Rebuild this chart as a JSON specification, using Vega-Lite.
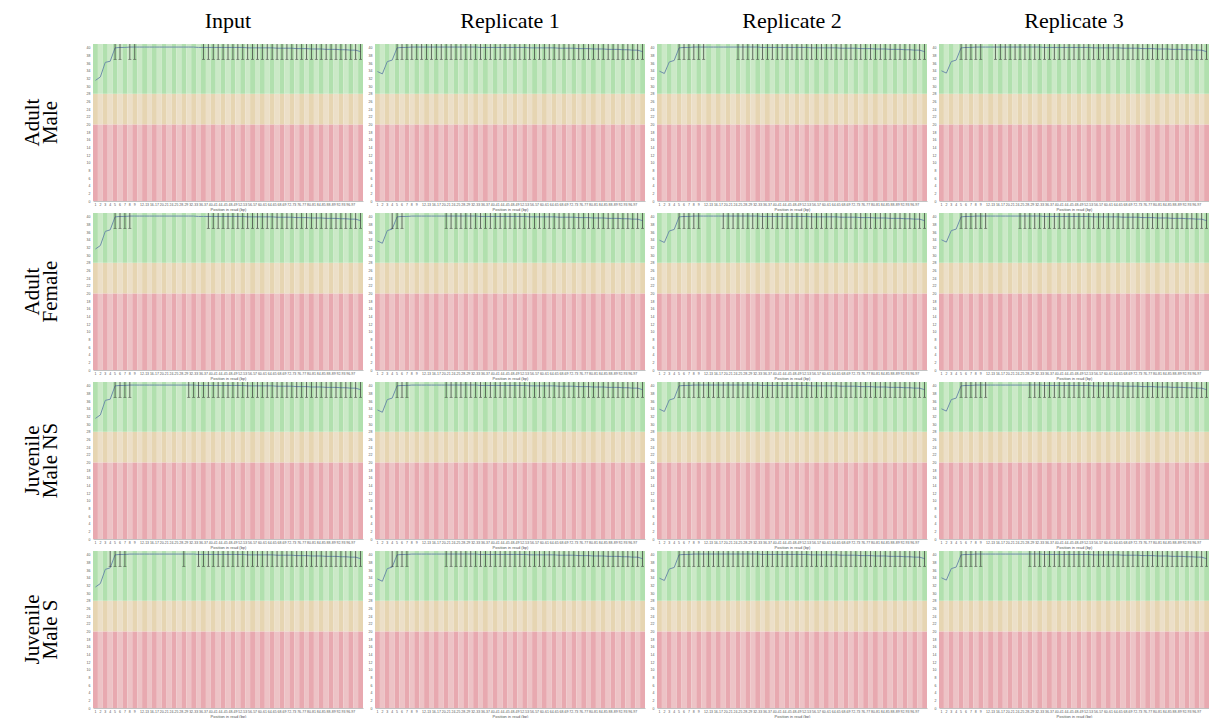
{
  "$schema": "https://vega.github.io/schema/vega-lite/v6.json",
  "background": "white",
  "padding": {"left": 21, "top": 10, "right": 0, "bottom": 0},
  "datasets": {
    "groups": [
      {"i":1,"g":"1"},{"i":2,"g":"2"},{"i":3,"g":"3"},{"i":4,"g":"4"},{"i":5,"g":"5"},{"i":6,"g":"6"},{"i":7,"g":"7"},{"i":8,"g":"8"},{"i":9,"g":"9"},
      {"i":10,"g":"10-11"},{"i":11,"g":"12-13"},{"i":12,"g":"14-15"},{"i":13,"g":"16-17"},{"i":14,"g":"18-19"},{"i":15,"g":"20-21"},{"i":16,"g":"22-23"},{"i":17,"g":"24-25"},{"i":18,"g":"26-27"},{"i":19,"g":"28-29"},
      {"i":20,"g":"30-31"},{"i":21,"g":"32-33"},{"i":22,"g":"34-35"},{"i":23,"g":"36-37"},{"i":24,"g":"38-39"},{"i":25,"g":"40-41"},{"i":26,"g":"42-43"},{"i":27,"g":"44-45"},{"i":28,"g":"46-47"},{"i":29,"g":"48-49"},
      {"i":30,"g":"50-51"},{"i":31,"g":"52-53"},{"i":32,"g":"54-55"},{"i":33,"g":"56-57"},{"i":34,"g":"58-59"},{"i":35,"g":"60-61"},{"i":36,"g":"62-63"},{"i":37,"g":"64-65"},{"i":38,"g":"66-67"},{"i":39,"g":"68-69"},
      {"i":40,"g":"70-71"},{"i":41,"g":"72-73"},{"i":42,"g":"74-75"},{"i":43,"g":"76-77"},{"i":44,"g":"78-79"},{"i":45,"g":"80-81"},{"i":46,"g":"82-83"},{"i":47,"g":"84-85"},{"i":48,"g":"86-87"},{"i":49,"g":"88-89"},
      {"i":50,"g":"90-91"},{"i":51,"g":"92-93"},{"i":52,"g":"94-95"},{"i":53,"g":"96-97"},{"i":54,"g":"98-99"},{"i":55,"g":"100-101"}
    ]
  },
  "data": {"values": [
    {"r":"Adult|Male","c":"Input",
     "i":[1,2,3,4,5,6,7,8,9,10,11,12,13,14,15,16,17,18,19,20,21,22,23,24,25,26,27,28,29,30,31,32,33,34,35,36,37,38,39,40,41,42,43,44,45,46,47,48,49,50,51,52,53,54,55],
     "m":[31.5,32.4,36.2,36.5,40.0,40.1,40.1,40.2,40.2,40.2,40.2,40.2,40.2,40.2,40.2,40.2,40.2,40.2,40.2,40.2,40.2,40.1,40.1,40.1,40.1,40.1,40.1,40.1,40.1,40.1,40.1,40,40,40,40,40,40,39.9,39.9,39.9,39.9,39.8,39.8,39.8,39.7,39.7,39.7,39.6,39.6,39.6,39.5,39.5,39.4,39.4,39],
     "w":[null,null,null,null,37,37,null,37,37,null,null,null,null,null,null,null,null,null,null,null,null,null,37,37,37,37,37,37,37,37,37,37,37,37,37,37,37,37,37,37,37,37,37,37,37,37,37,37,37,37,37,37,37,37,37]},
    {"r":"Adult|Male","c":"Replicate 1",
     "i":[1,2,3,4,5,6,7,8,9,10,11,12,13,14,15,16,17,18,19,20,21,22,23,24,25,26,27,28,29,30,31,32,33,34,35,36,37,38,39,40,41,42,43,44,45,46,47,48,49,50,51,52,53,54,55],
     "m":[33.8,33.2,36.4,36.8,40.0,40.1,40.1,40.2,40.2,40.2,40.2,40.2,40.2,40.2,40.2,40.2,40.2,40.2,40.2,40.2,40.2,40.1,40.1,40.1,40.1,40.1,40.1,40.1,40.1,40.1,40.1,40,40,40,40,40,40,39.9,39.9,39.9,39.9,39.8,39.8,39.8,39.7,39.7,39.7,39.6,39.6,39.6,39.5,39.5,39.4,39.4,39],
     "w":[null,null,null,null,37,37,37,37,37,37,37,37,37,37,37,37,37,37,37,37,37,37,37,37,37,37,37,37,37,37,37,37,37,37,37,37,37,37,37,37,37,37,37,37,37,37,37,37,37,37,37,37,37,37,37]},
    {"r":"Adult|Male","c":"Replicate 2",
     "i":[1,2,3,4,5,6,7,8,9,10,11,12,13,14,15,16,17,18,19,20,21,22,23,24,25,26,27,28,29,30,31,32,33,34,35,36,37,38,39,40,41,42,43,44,45,46,47,48,49,50,51,52,53,54,55],
     "m":[33.9,33.3,36.3,36.7,40.0,40.1,40.1,40.2,40.2,40.2,40.2,40.2,40.2,40.2,40.2,40.2,40.2,40.2,40.2,40.2,40.2,40.1,40.1,40.1,40.1,40.1,40.1,40.1,40.1,40.1,40.1,40,40,40,40,40,40,39.9,39.9,39.9,39.9,39.8,39.8,39.8,39.7,39.7,39.7,39.6,39.6,39.6,39.5,39.5,39.4,39.4,39],
     "w":[null,null,null,null,37,37,37,37,37,37,null,null,null,null,null,null,37,37,37,37,37,37,37,37,37,37,37,37,37,37,37,37,37,37,37,37,37,37,37,37,37,37,37,37,37,37,37,37,37,37,37,37,37,37,37]},
    {"r":"Adult|Male","c":"Replicate 3",
     "i":[1,2,3,4,5,6,7,8,9,10,11,12,13,14,15,16,17,18,19,20,21,22,23,24,25,26,27,28,29,30,31,32,33,34,35,36,37,38,39,40,41,42,43,44,45,46,47,48,49,50,51,52,53,54,55],
     "m":[34.0,33.4,36.4,36.8,40.0,40.1,40.1,40.2,40.2,40.2,40.2,40.2,40.2,40.2,40.2,40.2,40.2,40.2,40.2,40.2,40.2,40.1,40.1,40.1,40.1,40.1,40.1,40.1,40.1,40.1,40.1,40,40,40,40,40,40,39.9,39.9,39.9,39.9,39.8,39.8,39.8,39.7,39.7,39.7,39.6,39.6,39.6,39.5,39.5,39.4,39.4,39],
     "w":[null,null,null,null,37,37,37,37,37,null,null,37,37,37,37,37,37,37,37,37,37,37,37,37,37,37,37,37,37,37,37,37,37,37,37,37,37,37,37,37,37,37,37,37,37,37,37,37,37,37,37,37,37,37,37]},
    {"r":"Adult|Female","c":"Input",
     "i":[1,2,3,4,5,6,7,8,9,10,11,12,13,14,15,16,17,18,19,20,21,22,23,24,25,26,27,28,29,30,31,32,33,34,35,36,37,38,39,40,41,42,43,44,45,46,47,48,49,50,51,52,53,54,55],
     "m":[31.6,32.5,36.2,36.6,40.0,40.1,40.1,40.2,40.2,40.2,40.2,40.2,40.2,40.2,40.2,40.2,40.2,40.2,40.2,40.2,40.2,40.1,40.1,40.1,40.1,40.1,40.1,40.1,40.1,40.1,40.1,40,40,40,40,40,40,39.9,39.9,39.9,39.9,39.8,39.8,39.8,39.7,39.7,39.7,39.6,39.6,39.6,39.5,39.5,39.4,39.4,39],
     "w":[null,null,null,null,37,37,37,37,null,null,null,null,null,null,null,null,null,null,null,null,null,null,null,37,37,37,37,37,37,37,37,37,37,37,37,37,37,37,37,37,37,37,37,37,37,37,37,37,37,37,37,37,37,37,37]},
    {"r":"Adult|Female","c":"Replicate 1",
     "i":[1,2,3,4,5,6,7,8,9,10,11,12,13,14,15,16,17,18,19,20,21,22,23,24,25,26,27,28,29,30,31,32,33,34,35,36,37,38,39,40,41,42,43,44,45,46,47,48,49,50,51,52,53,54,55],
     "m":[33.7,33.1,36.4,36.8,40.0,40.1,40.1,40.2,40.2,40.2,40.2,40.2,40.2,40.2,40.2,40.2,40.2,40.2,40.2,40.2,40.2,40.1,40.1,40.1,40.1,40.1,40.1,40.1,40.1,40.1,40.1,40,40,40,40,40,40,39.9,39.9,39.9,39.9,39.8,39.8,39.8,39.7,39.7,39.7,39.6,39.6,39.6,39.5,39.5,39.4,39.4,39],
     "w":[null,null,null,37,37,37,null,null,null,null,null,null,null,null,37,37,37,37,37,37,37,37,37,37,37,37,37,37,37,37,37,37,37,37,37,37,37,37,37,37,37,37,37,37,37,37,37,37,37,37,37,37,37,37,37]},
    {"r":"Adult|Female","c":"Replicate 2",
     "i":[1,2,3,4,5,6,7,8,9,10,11,12,13,14,15,16,17,18,19,20,21,22,23,24,25,26,27,28,29,30,31,32,33,34,35,36,37,38,39,40,41,42,43,44,45,46,47,48,49,50,51,52,53,54,55],
     "m":[33.9,33.3,36.3,36.7,40.0,40.1,40.1,40.2,40.2,40.2,40.2,40.2,40.2,40.2,40.2,40.2,40.2,40.2,40.2,40.2,40.2,40.1,40.1,40.1,40.1,40.1,40.1,40.1,40.1,40.1,40.1,40,40,40,40,40,40,39.9,39.9,39.9,39.9,39.8,39.8,39.8,39.7,39.7,39.7,39.6,39.6,39.6,39.5,39.5,39.4,39.4,39],
     "w":[null,null,null,null,37,37,37,37,37,null,null,null,null,37,37,37,37,37,37,37,37,37,37,37,37,37,37,37,37,37,37,37,37,37,37,37,37,37,37,37,37,37,37,37,37,37,37,37,37,37,37,37,37,37,37]},
    {"r":"Adult|Female","c":"Replicate 3",
     "i":[1,2,3,4,5,6,7,8,9,10,11,12,13,14,15,16,17,18,19,20,21,22,23,24,25,26,27,28,29,30,31,32,33,34,35,36,37,38,39,40,41,42,43,44,45,46,47,48,49,50,51,52,53,54,55],
     "m":[34.0,33.4,36.4,36.8,40.0,40.1,40.1,40.2,40.2,40.2,40.2,40.2,40.2,40.2,40.2,40.2,40.2,40.2,40.2,40.2,40.2,40.1,40.1,40.1,40.1,40.1,40.1,40.1,40.1,40.1,40.1,40,40,40,40,40,40,39.9,39.9,39.9,39.9,39.8,39.8,39.8,39.7,39.7,39.7,39.6,39.6,39.6,39.5,39.5,39.4,39.4,39],
     "w":[null,null,null,null,37,37,37,37,37,37,null,null,null,null,null,null,37,37,37,37,37,37,37,37,37,37,37,37,37,37,37,37,37,37,37,37,37,37,37,37,37,37,37,37,37,37,37,37,37,37,37,37,37,37,37]},
    {"r":"Juvenile|Male NS","c":"Input",
     "i":[1,2,3,4,5,6,7,8,9,10,11,12,13,14,15,16,17,18,19,20,21,22,23,24,25,26,27,28,29,30,31,32,33,34,35,36,37,38,39,40,41,42,43,44,45,46,47,48,49,50,51,52,53,54,55],
     "m":[31.5,32.4,36.2,36.5,40.0,40.1,40.1,40.2,40.2,40.2,40.2,40.2,40.2,40.2,40.2,40.2,40.2,40.2,40.2,40.2,40.2,40.1,40.1,40.1,40.1,40.1,40.1,40.1,40.1,40.1,40.1,40,40,40,40,40,40,39.9,39.9,39.9,39.9,39.8,39.8,39.8,39.7,39.7,39.7,39.6,39.6,39.6,39.5,39.5,39.4,39.4,39],
     "w":[null,null,null,null,37,37,37,37,null,null,null,null,null,null,null,null,null,null,null,37,37,37,37,37,37,37,37,37,37,37,37,37,37,37,37,37,37,37,37,37,37,37,37,37,37,37,37,37,37,37,37,37,37,37,37]},
    {"r":"Juvenile|Male NS","c":"Replicate 1",
     "i":[1,2,3,4,5,6,7,8,9,10,11,12,13,14,15,16,17,18,19,20,21,22,23,24,25,26,27,28,29,30,31,32,33,34,35,36,37,38,39,40,41,42,43,44,45,46,47,48,49,50,51,52,53,54,55],
     "m":[33.7,33.1,36.4,36.8,40.0,40.1,40.1,40.2,40.2,40.2,40.2,40.2,40.2,40.2,40.2,40.2,40.2,40.2,40.2,40.2,40.2,40.1,40.1,40.1,40.1,40.1,40.1,40.1,40.1,40.1,40.1,40,40,40,40,40,40,39.9,39.9,39.9,39.9,39.8,39.8,39.8,39.7,39.7,39.7,39.6,39.6,39.6,39.5,39.5,39.4,39.4,39],
     "w":[null,null,null,null,37,37,37,null,null,null,null,null,null,null,37,37,37,37,37,37,37,37,37,37,37,37,37,37,37,37,37,37,37,37,37,37,37,37,37,37,37,37,37,37,37,37,37,37,37,37,37,37,37,37,37]},
    {"r":"Juvenile|Male NS","c":"Replicate 2",
     "i":[1,2,3,4,5,6,7,8,9,10,11,12,13,14,15,16,17,18,19,20,21,22,23,24,25,26,27,28,29,30,31,32,33,34,35,36,37,38,39,40,41,42,43,44,45,46,47,48,49,50,51,52,53,54,55],
     "m":[33.9,33.3,36.3,36.7,40.0,40.1,40.1,40.2,40.2,40.2,40.2,40.2,40.2,40.2,40.2,40.2,40.2,40.2,40.2,40.2,40.2,40.1,40.1,40.1,40.1,40.1,40.1,40.1,40.1,40.1,40.1,40,40,40,40,40,40,39.9,39.9,39.9,39.9,39.8,39.8,39.8,39.7,39.7,39.7,39.6,39.6,39.6,39.5,39.5,39.4,39.4,39],
     "w":[null,null,null,null,37,37,37,37,37,37,37,37,37,37,37,37,37,37,37,37,37,37,37,37,37,37,37,37,37,37,37,37,37,37,37,37,37,37,37,37,37,37,37,37,37,37,37,37,37,37,37,37,37,37,37]},
    {"r":"Juvenile|Male NS","c":"Replicate 3",
     "i":[1,2,3,4,5,6,7,8,9,10,11,12,13,14,15,16,17,18,19,20,21,22,23,24,25,26,27,28,29,30,31,32,33,34,35,36,37,38,39,40,41,42,43,44,45,46,47,48,49,50,51,52,53,54,55],
     "m":[34.0,33.4,36.4,36.8,40.0,40.1,40.1,40.2,40.2,40.2,40.2,40.2,40.2,40.2,40.2,40.2,40.2,40.2,40.2,40.2,40.2,40.1,40.1,40.1,40.1,40.1,40.1,40.1,40.1,40.1,40.1,40,40,40,40,40,40,39.9,39.9,39.9,39.9,39.8,39.8,39.8,39.7,39.7,39.7,39.6,39.6,39.6,39.5,39.5,39.4,39.4,39],
     "w":[null,null,null,null,37,37,37,37,37,37,null,null,null,null,null,null,null,null,37,37,37,37,37,37,37,37,37,37,37,37,37,37,37,37,37,37,37,37,37,37,37,37,37,37,37,37,37,37,37,37,37,37,37,37,37]},
    {"r":"Juvenile|Male S","c":"Input",
     "i":[1,2,3,4,5,6,7,8,9,10,11,12,13,14,15,16,17,18,19,20,21,22,23,24,25,26,27,28,29,30,31,32,33,34,35,36,37,38,39,40,41,42,43,44,45,46,47,48,49,50,51,52,53,54,55],
     "m":[31.6,32.5,36.2,36.6,40.0,40.1,40.1,40.2,40.2,40.2,40.2,40.2,40.2,40.2,40.2,40.2,40.2,40.2,40.2,40.2,40.2,40.1,40.1,40.1,40.1,40.1,40.1,40.1,40.1,40.1,40.1,40,40,40,40,40,40,39.9,39.9,39.9,39.9,39.8,39.8,39.8,39.7,39.7,39.7,39.6,39.6,39.6,39.5,39.5,39.4,39.4,39],
     "w":[null,null,null,37,37,37,37,null,null,null,null,null,null,null,null,null,null,null,37,null,null,37,37,37,37,37,37,37,37,37,37,37,37,37,37,37,37,37,37,37,37,37,37,37,37,37,37,37,37,37,37,37,37,37,37]},
    {"r":"Juvenile|Male S","c":"Replicate 1",
     "i":[1,2,3,4,5,6,7,8,9,10,11,12,13,14,15,16,17,18,19,20,21,22,23,24,25,26,27,28,29,30,31,32,33,34,35,36,37,38,39,40,41,42,43,44,45,46,47,48,49,50,51,52,53,54,55],
     "m":[33.7,33.1,36.4,36.8,40.0,40.1,40.1,40.2,40.2,40.2,40.2,40.2,40.2,40.2,40.2,40.2,40.2,40.2,40.2,40.2,40.2,40.1,40.1,40.1,40.1,40.1,40.1,40.1,40.1,40.1,40.1,40,40,40,40,40,40,39.9,39.9,39.9,39.9,39.8,39.8,39.8,39.7,39.7,39.7,39.6,39.6,39.6,39.5,39.5,39.4,39.4,39],
     "w":[null,null,null,37,37,37,37,null,null,null,null,null,null,null,37,37,37,37,37,37,37,37,37,37,37,37,37,37,37,37,37,37,37,37,37,37,37,37,37,37,37,37,37,37,37,37,37,37,37,37,37,37,37,37,37]},
    {"r":"Juvenile|Male S","c":"Replicate 2",
     "i":[1,2,3,4,5,6,7,8,9,10,11,12,13,14,15,16,17,18,19,20,21,22,23,24,25,26,27,28,29,30,31,32,33,34,35,36,37,38,39,40,41,42,43,44,45,46,47,48,49,50,51,52,53,54,55],
     "m":[33.9,33.3,36.3,36.7,40.0,40.1,40.1,40.2,40.2,40.2,40.2,40.2,40.2,40.2,40.2,40.2,40.2,40.2,40.2,40.2,40.2,40.1,40.1,40.1,40.1,40.1,40.1,40.1,40.1,40.1,40.1,40,40,40,40,40,40,39.9,39.9,39.9,39.9,39.8,39.8,39.8,39.7,39.7,39.7,39.6,39.6,39.6,39.5,39.5,39.4,39.4,39],
     "w":[null,null,null,null,37,37,37,37,37,37,37,37,37,37,37,37,37,37,37,37,37,37,37,37,37,37,37,37,37,37,37,37,37,37,37,37,37,37,37,37,37,37,37,37,37,37,37,37,37,37,37,37,37,37,37]},
    {"r":"Juvenile|Male S","c":"Replicate 3",
     "i":[1,2,3,4,5,6,7,8,9,10,11,12,13,14,15,16,17,18,19,20,21,22,23,24,25,26,27,28,29,30,31,32,33,34,35,36,37,38,39,40,41,42,43,44,45,46,47,48,49,50,51,52,53,54,55],
     "m":[34.0,33.4,36.4,36.8,40.0,40.1,40.1,40.2,40.2,40.2,40.2,40.2,40.2,40.2,40.2,40.2,40.2,40.2,40.2,40.2,40.2,40.1,40.1,40.1,40.1,40.1,40.1,40.1,40.1,40.1,40.1,40,40,40,40,40,40,39.9,39.9,39.9,39.9,39.8,39.8,39.8,39.7,39.7,39.7,39.6,39.6,39.6,39.5,39.5,39.4,39.4,39],
     "w":[null,null,null,null,37,37,37,37,37,null,null,null,null,null,null,null,null,null,37,37,37,37,37,37,37,37,37,37,37,37,37,37,37,37,37,37,37,37,37,37,37,37,37,37,37,37,37,37,37,37,37,37,37,37,37]}
  ]},
  "transform": [
    {"flatten": ["i", "m", "w"]},
    {"lookup": "i", "from": {"data": {"name": "groups"}, "key": "i", "fields": ["g"]}}
  ],
  "facet": {
    "row": {"field": "r", "type": "nominal",
      "sort": ["Adult|Male", "Adult|Female", "Juvenile|Male NS", "Juvenile|Male S"],
      "header": {"title": null, "labelExpr": "split(datum.value, '|')", "labelAngle": -90, "labelAlign": "center",
        "labelLineHeight": 18, "labelPadding": 21, "labelFont": "Liberation Serif", "labelFontSize": 21, "labelColor": "#000"}},
    "column": {"field": "c", "type": "nominal",
      "sort": ["Input", "Replicate 1", "Replicate 2", "Replicate 3"],
      "header": {"title": null, "labelFont": "Liberation Serif", "labelFontSize": 22, "labelColor": "#000", "labelPadding": 11}}
  },
  "spacing": {"row": 12, "column": 12},
  "bounds": "flush",
  "resolve": {"axis": {"x": "independent", "y": "independent"}},
  "spec": {
    "width": 270,
    "height": 157,
    "encoding": {
      "x": {"field": "g", "type": "ordinal", "title": "Position in read (bp)",
        "scale": {"paddingInner": 0, "paddingOuter": 0, "domain": ["1","2","3","4","5","6","7","8","9","10-11","12-13","14-15","16-17","18-19","20-21","22-23","24-25","26-27","28-29","30-31","32-33","34-35","36-37","38-39","40-41","42-43","44-45","46-47","48-49","50-51","52-53","54-55","56-57","58-59","60-61","62-63","64-65","66-67","68-69","70-71","72-73","74-75","76-77","78-79","80-81","82-83","84-85","86-87","88-89","90-91","92-93","94-95","96-97","98-99","100-101"]},
        "axis": {"labelFontSize": 3.5, "labelAngle": 0, "labelOverlap": "greedy", "labelPadding": 1.5, "ticks": false,
          "domainColor": "#999", "domainWidth": 0.6, "labelColor": "#555", "titleFontSize": 4, "titleFontWeight": "normal",
          "titleColor": "#555", "titlePadding": 1}}
    },
    "layer": [
      {"mark": {"type": "rect", "strokeWidth": 0},
       "encoding": {
         "y": {"datum": 0, "type": "quantitative", "title": null, "scale": {"domain": [0, 41], "nice": false},
           "axis": {"values": [0,2,4,6,8,10,12,14,16,18,20,22,24,26,28,30,32,34,36,38,40], "labelFontSize": 3.5, "ticks": false,
             "domain": false, "grid": false, "labelColor": "#555", "labelPadding": 3, "labelOverlap": false}},
         "y2": {"datum": 20},
         "color": {"condition": {"test": "datum.i % 2 == 1", "value": "#e8a9b0"}, "value": "#edc3c6"}}},
      {"mark": {"type": "rect", "strokeWidth": 0},
       "encoding": {
         "y": {"datum": 20, "type": "quantitative", "title": null,
           "axis": {"values": [0,2,4,6,8,10,12,14,16,18,20,22,24,26,28,30,32,34,36,38,40], "labelFontSize": 3.5, "ticks": false,
             "domain": false, "grid": false, "labelColor": "#555", "labelPadding": 3, "labelOverlap": false}},
         "y2": {"datum": 28},
         "color": {"condition": {"test": "datum.i % 2 == 1", "value": "#e6d5b2"}, "value": "#ecdfc8"}}},
      {"mark": {"type": "rect", "strokeWidth": 0},
       "encoding": {
         "y": {"datum": 28, "type": "quantitative", "title": null,
           "axis": {"values": [0,2,4,6,8,10,12,14,16,18,20,22,24,26,28,30,32,34,36,38,40], "labelFontSize": 3.5, "ticks": false,
             "domain": false, "grid": false, "labelColor": "#555", "labelPadding": 3, "labelOverlap": false}},
         "y2": {"datum": 41},
         "color": {"condition": {"test": "datum.i % 2 == 1", "value": "#b1e0ae"}, "value": "#cbe9c7"}}},
      {"mark": {"type": "line", "color": "#6f8faa", "strokeWidth": 1},
       "encoding": {"y": {"field": "m", "type": "quantitative", "title": null,
           "axis": {"values": [0,2,4,6,8,10,12,14,16,18,20,22,24,26,28,30,32,34,36,38,40], "labelFontSize": 3.5, "ticks": false,
             "domain": false, "grid": false, "labelColor": "#555", "labelPadding": 3, "labelOverlap": false}}}},
      {"transform": [{"filter": "datum.w != null"}],
       "mark": {"type": "rule", "color": "#333", "strokeWidth": 0.7},
       "encoding": {"y": {"field": "w", "type": "quantitative", "title": null,
           "axis": {"values": [0,2,4,6,8,10,12,14,16,18,20,22,24,26,28,30,32,34,36,38,40], "labelFontSize": 3.5, "ticks": false,
             "domain": false, "grid": false, "labelColor": "#555", "labelPadding": 3, "labelOverlap": false}},
         "y2": {"datum": 41}}},
      {"transform": [{"filter": "datum.w != null"}],
       "mark": {"type": "tick", "color": "#333", "thickness": 0.7, "size": 3},
       "encoding": {"y": {"field": "w", "type": "quantitative", "title": null,
           "axis": {"values": [0,2,4,6,8,10,12,14,16,18,20,22,24,26,28,30,32,34,36,38,40], "labelFontSize": 3.5, "ticks": false,
             "domain": false, "grid": false, "labelColor": "#555", "labelPadding": 3, "labelOverlap": false}}}}
    ]
  },
  "config": {
    "view": {"stroke": null},
    "font": "Liberation Sans",
    "axis": {"grid": false}
  }
}
